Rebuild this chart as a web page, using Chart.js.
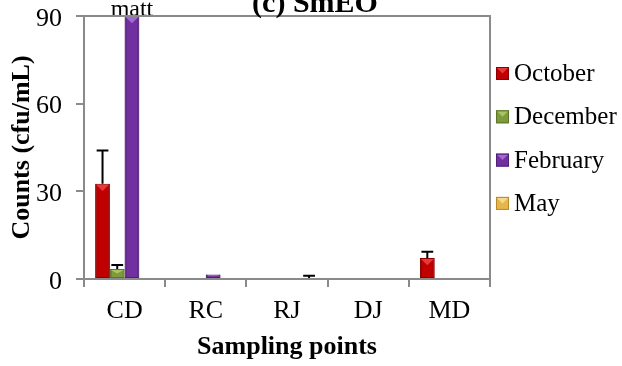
<!DOCTYPE html>
<html>
<head>
<meta charset="utf-8">
<script src="https://cdn.jsdelivr.net/npm/chart.js@4/dist/chart.umd.min.js"></script>
<style>
  html, body { margin: 0; padding: 0; background: #fff; }
  #wrap { width: 622px; height: 366px; position: relative; }
</style>
</head>
<body>
<div id="wrap"><canvas id="c"></canvas></div>
<script>
// Sampling points and monthly counts (cfu/mL)
const categories = ['CD', 'RC', 'RJ', 'DJ', 'MD'];
const october     = [32.6, 0, 0, 0, 7.2];
const octoberErr  = [11.4, 0, 0, 0, 2.1];
const december    = [3.4, 0, 0, 0, 0];
const decemberErr = [1.4, 0, 0, 0, 0];
const february    = [90, 1.5, 0.3, 0, 0];
const februaryErr = [0, 0, 0, 0, 0];
const may         = [0, 0, 0.3, 0, 0];
const mayErr      = [0, 0, 0.8, 0, 0];
// text written above a bar (too many colonies to count)
const februaryNotes = ['matt', '', '', '', ''];
const yTicks = [0, 30, 60, 90];

const SERIF = "'Liberation Serif', 'Times New Roman', serif";
const GREY = '#8a8a8a';

const palette = {
  October:  { fill: '#C00000', edge: '#8E0000', light: '#E8383A' },
  December: { fill: '#7E9B3C', edge: '#5B7428', light: '#A9C466' },
  February: { fill: '#7030A0', edge: '#4F1F75', light: '#A468D6' },
  May:      { fill: '#E6B54C', edge: '#B98A2A', light: '#F6D98A' }
};

function series(label, data, err, notes) {
  const p = palette[label];
  return {
    label, data,
    errors: err,
    notes: notes || null,
    backgroundColor: p.fill,
    borderColor: p.edge,
    borderWidth: 1,
    borderSkipped: false
  };
}

// bevel highlight, error bars and notes drawn on top of the bars
const barDecor = {
  id: 'barDecor',
  afterDatasetsDraw(chart) {
    const ctx = chart.ctx;
    const yScale = chart.scales.y;
    chart.data.datasets.forEach((ds, i) => {
      const meta = chart.getDatasetMeta(i);
      const p = palette[ds.label];
      meta.data.forEach((bar, j) => {
        const v = ds.data[j];
        const h = bar.base - bar.y;
        const w = bar.width;
        const left = bar.x - w / 2;
        if (h > 3) {
          ctx.save();
          ctx.beginPath();
          ctx.rect(left, bar.y, w, h);
          ctx.clip();
          // darker side strips
          ctx.fillStyle = p.edge;
          ctx.globalAlpha = 0.55;
          ctx.fillRect(left, bar.y, 2, h);
          ctx.fillRect(left + w - 2, bar.y, 2, h);
          ctx.globalAlpha = 1;
          // light top facet
          ctx.fillStyle = p.light;
          ctx.beginPath();
          ctx.moveTo(left + 1, bar.y + 1);
          ctx.lineTo(left + w - 1, bar.y + 1);
          ctx.lineTo(bar.x, bar.y + Math.min(w / 2, h / 2));
          ctx.closePath();
          ctx.fill();
          ctx.restore();
        }
        const e = ds.errors[j];
        if (e > 0) {
          const yTop = yScale.getPixelForValue(v + e);
          const cap = w * 0.8;
          ctx.save();
          ctx.strokeStyle = '#000';
          ctx.lineWidth = 2;
          ctx.beginPath();
          ctx.moveTo(bar.x, bar.y);
          ctx.lineTo(bar.x, yTop);
          ctx.moveTo(bar.x - cap / 2, yTop);
          ctx.lineTo(bar.x + cap / 2, yTop);
          ctx.stroke();
          ctx.restore();
        }
        if (ds.notes && ds.notes[j]) {
          ctx.save();
          ctx.font = '24px ' + SERIF;
          ctx.fillStyle = '#000';
          ctx.textAlign = 'center';
          ctx.textBaseline = 'alphabetic';
          ctx.fillText(ds.notes[j], bar.x, bar.y);
          ctx.restore();
        }
      });
    });
  },
  afterDraw(chart) {
    const ctx = chart.ctx;
    const a = chart.chartArea;
    // plot frame: top and right edges
    ctx.save();
    ctx.strokeStyle = GREY;
    ctx.lineWidth = 2;
    ctx.beginPath();
    ctx.moveTo(a.left - 8, a.top);
    ctx.lineTo(a.right, a.top);
    ctx.lineTo(a.right, a.bottom);
    ctx.stroke();
    ctx.restore();

    // chart title
    ctx.save();
    ctx.font = 'bold 30px ' + SERIF;
    ctx.fillStyle = '#000';
    ctx.textAlign = 'center';
    ctx.textBaseline = 'alphabetic';
    ctx.fillText('(c) SmEO', 315, 12);
    ctx.restore();

    // legend
    ctx.save();
    ctx.font = '25px ' + SERIF;
    ctx.textBaseline = 'middle';
    ctx.textAlign = 'left';
    const bx = a.right + 6, size = 13, y0 = 73.5, step = 43.3;
    chart.data.datasets.forEach((ds, i) => {
      const p = palette[ds.label];
      const cy = y0 + i * step;
      const top = cy - size / 2;
      ctx.fillStyle = p.fill;
      ctx.fillRect(bx, top, size, size);
      ctx.fillStyle = p.light;
      ctx.beginPath();
      ctx.moveTo(bx + 1, top + 1);
      ctx.lineTo(bx + size - 1, top + 1);
      ctx.lineTo(bx + size / 2, top + size / 2);
      ctx.closePath();
      ctx.fill();
      ctx.strokeStyle = p.edge;
      ctx.lineWidth = 1;
      ctx.strokeRect(bx + 0.5, top + 0.5, size - 1, size - 1);
      ctx.fillStyle = '#000';
      ctx.fillText(ds.label, bx + size + 5, cy + 1);
    });
    ctx.restore();
  }
};

new Chart(document.getElementById('c'), {
  type: 'bar',
  data: {
    labels: categories,
    datasets: [
      series('October', october, octoberErr),
      series('December', december, decemberErr),
      series('February', february, februaryErr, februaryNotes),
      series('May', may, mayErr)
    ]
  },
  options: {
    responsive: true,
    maintainAspectRatio: false,
    animation: false,
    devicePixelRatio: 1,
    layout: { padding: { top: 16, right: 132, left: 0, bottom: 0 } },
    datasets: { bar: { categoryPercentage: 0.725, barPercentage: 1 } },
    plugins: {
      legend: { display: false },
      tooltip: { enabled: false },
      title: { display: false }
    },
    scales: {
      x: {
        afterFit(scale) {
          scale.height = 87;
          scale.paddingLeft = 0; scale.paddingRight = 0;
        },
        grid: { display: true, drawOnChartArea: false, offset: true, tickLength: 8, color: GREY, lineWidth: 2 },
        border: { display: true, color: GREY, width: 2 },
        ticks: { color: '#000', font: { family: SERIF, size: 26 }, padding: 9 },
        title: {
          display: true, text: 'Sampling points', color: '#000',
          font: { family: SERIF, size: 26, weight: 'bold' },
          padding: { top: 0, bottom: 3 }
        }
      },
      y: {
        min: 0, max: 90,
        afterFit(scale) {
          scale.width = 84;
          scale.paddingTop = 0; scale.paddingBottom = 0;
        },
        afterBuildTicks(scale) { scale.ticks = yTicks.map(v => ({ value: v })); },
        grid: { display: true, drawOnChartArea: false, tickLength: 8, color: GREY, lineWidth: 2 },
        border: { display: true, color: GREY, width: 2 },
        ticks: { color: '#000', font: { family: SERIF, size: 26 }, padding: 14, labelOffset: 3 },
        title: {
          display: true, text: 'Counts (cfu/mL)', color: '#000',
          font: { family: SERIF, size: 26, weight: 'bold' },
          padding: { top: 7, bottom: 0 }
        }
      }
    }
  },
  plugins: [barDecor]
});
</script>
</body>
</html>
